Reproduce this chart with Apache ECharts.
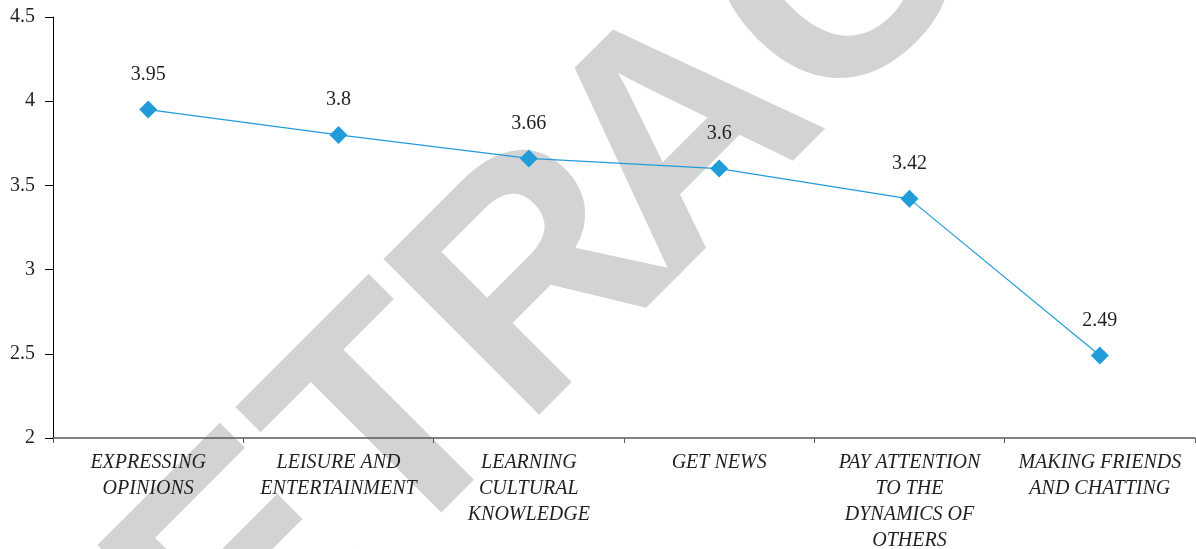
<!DOCTYPE html>
<html>
<head>
<meta charset="utf-8">
<script src="https://cdn.jsdelivr.net/npm/echarts@6/dist/echarts.min.js"></script>
<style>
html,body{margin:0;padding:0;background:#fff;}
#chart{width:1196px;height:549px;}
</style>
</head>
<body>
<div id="chart"></div>
<script>
var categories = [
  'EXPRESSING\nOPINIONS',
  'LEISURE AND\nENTERTAINMENT',
  'LEARNING\nCULTURAL\nKNOWLEDGE',
  'GET NEWS',
  'PAY ATTENTION\nTO THE\nDYNAMICS OF\nOTHERS',
  'MAKING FRIENDS\nAND CHATTING'
];
var values = [3.95, 3.8, 3.66, 3.6, 3.42, 2.49];
var yTicks = [2, 2.5, 3, 3.5, 4, 4.5];
var watermark = 'RETRACTED';

// watermark layout: offsets of each letter along a 45-degree baseline
var wmOffsets = [-569, -338, -125, 66.6, 270, 495, 726, 922, 1135];
var wmFont = 320;
var wmSum = 829;
var graphics = watermark.split('').map(function (ch, i) {
  var d = wmOffsets[i] * Math.SQRT2;
  return {
    type: 'text',
    z: -10,
    silent: true,
    x: (wmSum + d) / 2,
    y: (wmSum - d) / 2,
    rotation: Math.PI / 4,
    style: {
      text: ch,
      font: 'bold ' + wmFont + 'px "Liberation Sans", Arial, sans-serif',
      fill: '#d3d3d3',
      align: 'left',
      verticalAlign: 'middle'
    }
  };
});

var serif = '"Liberation Serif", "DejaVu Serif", serif';
var chart = echarts.init(document.getElementById('chart'));
chart.setOption({
  animation: false,
  backgroundColor: '#ffffff',
  graphic: graphics,
  grid: {left: 53, right: 1, top: 17, bottom: 111, containLabel: false, outerBoundsMode: 'none'},
  xAxis: {
    type: 'category',
    data: categories,
    boundaryGap: true,
    axisLine: {show: true, lineStyle: {color: '#5a5a5a', width: 1.5}},
    axisTick: {show: true, length: 5, lineStyle: {color: '#5a5a5a'}},
    axisLabel: {
      interval: 0,
      margin: 12,
      fontFamily: serif,
      fontStyle: 'italic',
      fontSize: 20,
      lineHeight: 26,
      color: '#231f20'
    },
    splitLine: {show: false}
  },
  yAxis: {
    type: 'value',
    min: yTicks[0],
    max: yTicks[yTicks.length - 1],
    interval: 0.5,
    axisLine: {show: true, lineStyle: {color: '#000000', width: 1}},
    axisTick: {show: true, length: 8, lineStyle: {color: '#000000'}},
    axisLabel: {
      margin: 18,
      fontFamily: serif,
      fontSize: 20,
      color: '#231f20'
    },
    splitLine: {show: false}
  },
  series: [{
    type: 'line',
    data: values,
    symbol: 'diamond',
    symbolSize: 18,
    itemStyle: {color: '#229cd9'},
    lineStyle: {color: '#229cd9', width: 1.2},
    label: {
      show: true,
      position: 'top',
      distance: 16,
      fontFamily: serif,
      fontSize: 20,
      color: '#231f20'
    }
  }]
});
</script>
</body>
</html>
